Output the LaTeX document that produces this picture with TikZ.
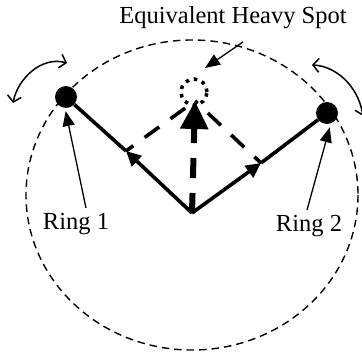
\documentclass[tikz,border=0pt]{standalone}
\usepackage{fontspec}
\setmainfont{Liberation Serif}
\usetikzlibrary{arrows.meta}
\tikzset{
  ringw/.style={circle,fill=black,inner sep=0pt,minimum size=22pt},
  spotc/.style={circle,draw,line width=3.5pt,dash pattern=on 3.5pt off 5pt,inner sep=0pt,minimum size=26pt},
  rim/.style={line width=1.4pt,dash pattern=on 7.5pt off 5pt},
  vecl/.style={line width=3.6pt},
  resl/.style={line width=6pt,dash pattern=on 20pt off 15pt},
  parl/.style={line width=3.6pt,dash pattern=on 18pt off 14pt,dash phase=9pt},
  guide/.style={line width=1.3pt,-{Triangle[length=15pt,width=12pt]}},
  swing/.style={line width=1.5pt,{Straight Barb[length=6pt,width=14pt]}-{Straight Barb[length=6pt,width=14pt]}}
}
\begin{document}
\begin{tikzpicture}[x=1pt,y=-1pt,every node/.style={font=\fontsize{24.5}{28}\selectfont}]
  \useasboundingbox (0,0) rectangle (362,353);
  \draw[rim] (192,195) ellipse [x radius=166,y radius=155];

  \coordinate (o) at (192,213);
  \coordinate (m1) at (126,151);
  \coordinate (m2) at (261,163);
  \coordinate (res) at (195,101);
  \node[ringw] (r1) at (66,97) {};
  \node[ringw] (r2) at (327,113) {};
  \node[spotc] (hs) at (194,92) {};

  % parallelogram and resultant
  \draw[parl] (m1) -- (res);
  \draw[parl] (m2) -- (res);
  \draw[resl,-{Triangle[length=28pt,width=27pt]}] (o) -- (res);

  % ring vectors
  \draw[vecl,-{Triangle[length=15pt,width=14pt]}] (o) -- (m1);
  \draw[vecl] (m1) -- (r1);
  \draw[vecl,-{Triangle[length=15pt,width=14pt]}] (o) -- (m2);
  \draw[vecl] (m2) -- (r2);

  % labels
  \node[anchor=base] (hslbl) at (233,24) {Equivalent Heavy Spot};
  \node[anchor=base] (t1) at (76,229) {Ring 1};
  \node[anchor=base] (t2) at (309,231) {Ring 2};
  \coordinate (l1) at (86,208);
  \coordinate (l2) at (307,210);
  \coordinate (sp) at (243,42);
  \coordinate (hstip) at (205,68);
  \draw[guide,shorten >=3pt] (l1) -- (r1.-95);
  \draw[guide,shorten >=4pt] (l2) -- (r2.-70);
  \draw[guide] (sp) -- (hstip);

  % rotation hints
  \coordinate (a1) at (13,103);
  \coordinate (a2) at (67,63);
  \coordinate (b1) at (312,65);
  \coordinate (b2) at (363,116);
  \draw[swing] (a1) .. controls (18,78) and (42,56) .. (a2);
  \draw[swing] (b1) .. controls (335,66) and (358,85) .. (b2);
\end{tikzpicture}
\end{document}
